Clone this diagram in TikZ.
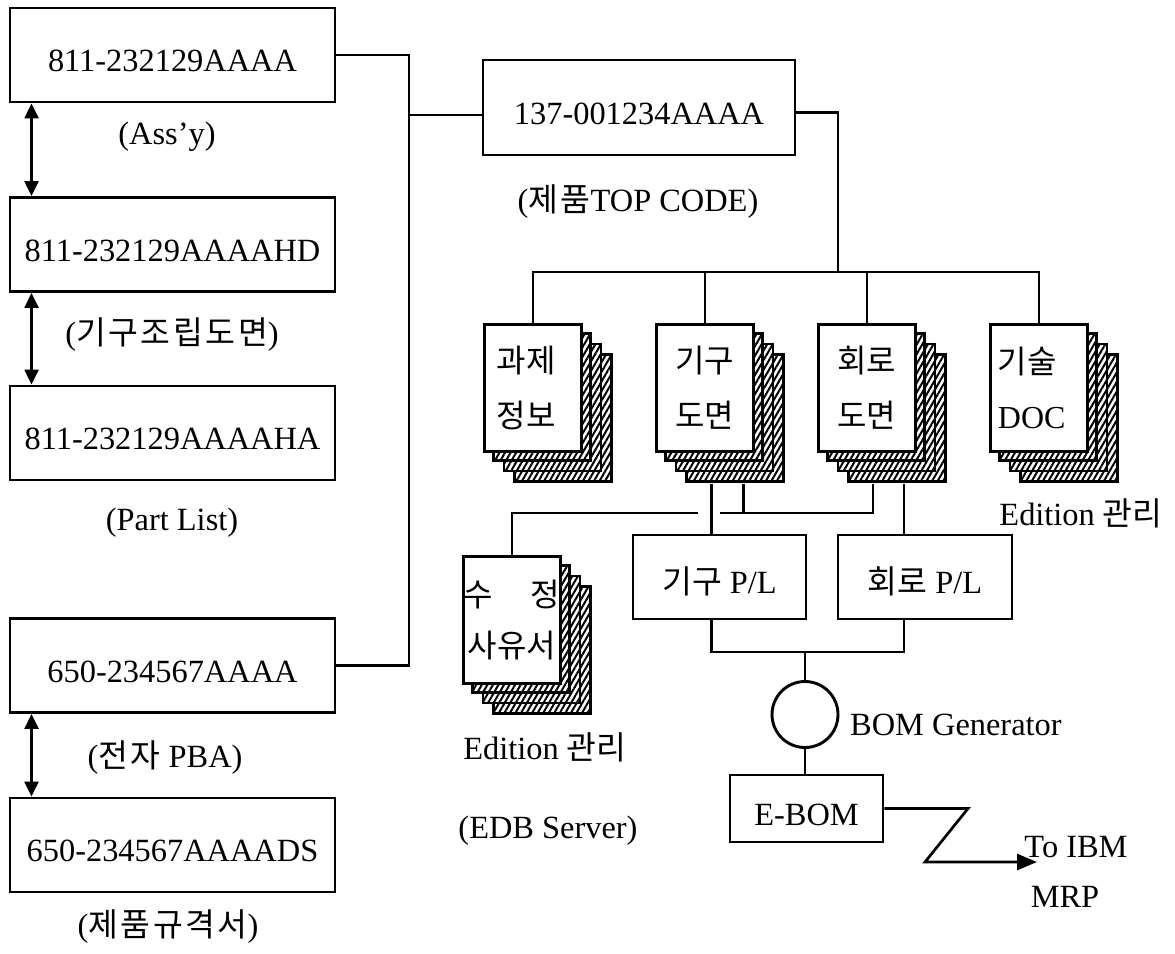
\documentclass[tikz,border=0pt]{standalone}
\usepackage{fontspec}
\setmainfont{Liberation Serif}
\newfontfamily\kr{Noto Sans CJK KR}
\newfontfamily\krl[LetterSpace=8]{Noto Sans CJK KR}
\usetikzlibrary{arrows.meta,patterns.meta,calc}

\tikzset{
  conn/.style={line width=2.7pt},
  codebox/.style={draw, line width=2.9pt, minimum width=325pt, minimum height=94pt, inner sep=0pt, text height=33pt, text depth=0pt},
  plbox/.style={draw, line width=2.9pt, inner sep=0pt, text height=33pt, text depth=0pt},
  docpage/.style={draw, line width=2.9pt, fill=white, minimum width=97pt, minimum height=127pt, inner sep=0pt, align=center,
     font=\kr\fontsize{32}{55}\selectfont},
  hatchpage/.style={draw, line width=2.4pt, fill=white, postaction={pattern={Lines[angle=60,distance=4.8pt,line width=2pt]}}},
  dbl/.style={line width=2.7pt, {Triangle[length=15pt,width=14pt]}-{Triangle[length=15pt,width=14pt]}},
  lbl/.style={inner sep=0pt}
}

\newcommand\docstack[4]{%
  \foreach \k in {3,2,1} {
    \draw[hatchpage] ({#2+\k*10.5},{#3+\k*10.5}) rectangle ++(97,127);
  }
  \node[docpage, anchor=north west] (#1) at (#2,#3) {#4};
  \coordinate (#1-b) at ($(#1.south)+(31.5,31.5)$);
}

\begin{document}
\begin{tikzpicture}[x=1pt,y=-1pt, font=\fontsize{32.4}{38}\selectfont]
\useasboundingbox (0,0) rectangle (1175,953);

% left column
\node[codebox] (b1) at (172.5,55) {811-232129AAAA};
\node[codebox] (b2) at (172.5,244.5) {811-232129AAAAHD};
\node[codebox] (b3) at (172.5,433) {811-232129AAAAHA};
\node[codebox] (b4) at (172.5,665.5) {650-234567AAAA};
\node[codebox] (b5) at (172.5,845) {650-234567AAAADS};

\node[lbl] (l1) at (167,137) {(Ass’y)};
\node[lbl] (l2) at (172,335) {({\krl 기구조립도면})};
\node[lbl] (l3) at (172,523) {(Part List)};
\node[lbl] (l4) at (165,758) {({\krl 전자} PBA)};
\node[lbl] (l5) at (168,927) {({\krl 제품규격서})};

\draw[dbl] ([xshift=23pt]b1.south west) -- ([xshift=23pt]b2.north west);
\draw[dbl] ([xshift=23pt]b2.south west) -- ([xshift=23pt]b3.north west);
\draw[dbl] ([xshift=23pt]b4.south west) -- ([xshift=23pt]b5.north west);

% top code
\node[plbox, minimum width=312pt, minimum height=95pt] (top) at (639,107.5) {137-001234AAAA};
\node[lbl] (ltop) at (638,202) {({\krl 제품}TOP CODE)};

\coordinate (trunk) at (409,115);
\draw[conn] (b1.east) -| (trunk) |- (b4.east);
\draw[conn] (trunk) -- (trunk -| top.west);

% documents
\docstack{d1}{483}{323}{\hbox to 72pt{과제\hfill}\\\hbox to 72pt{정보\hfill}}
\docstack{d2}{655}{323}{기구\\도면}
\docstack{d3}{817}{323}{회로\\도면}
\docstack{d4}{989}{323}{\hbox to 82pt{기술\hfill}\\\hbox to 82pt{\rmfamily DOC\hfill}}
\docstack{d5}{462}{555}{\hbox to 3em{수\hfill 정}\\[-4pt]사유서}

\coordinate (tr) at (838,272);
\draw[conn] ([yshift=-5pt]top.east) -| (tr);
\draw[conn] (d1.north) |- (tr) -| (d4.north);
\draw[conn] (d2.north) -- (d2.north |- tr);
\draw[conn] (d3.north) -- (d3.north |- tr);

\node[lbl] (ed1) at (1081,513) {Edition {\kr 관리}};
\node[lbl] (ed2) at (545,747) {Edition {\kr 관리}};

% parts lists
\node[plbox, minimum width=173pt, minimum height=84pt] (kpl) at (719.5,577) {{\kr 기구} P/L};
\node[plbox, minimum width=174pt, minimum height=84pt] (hpl) at (925,577) {{\kr 회로} P/L};

\coordinate (k1) at ($(d2-b)+(-25,0)$);
\coordinate (k2) at ($(d2-b)+(7,0)$);
\coordinate (h1) at ($(d3-b)+(-25.5,0)$);
\coordinate (h2) at ($(d3-b)+(5.5,0)$);
\coordinate (xl) at (698,513);
\coordinate (xr) at (720,513);

\draw[conn] (k1) -- (k1 |- kpl.north);
\draw[conn] (h2) -- (h2 |- hpl.north);
\draw[conn] (k2) -- (k2 |- xr);
\draw[conn] (xr) -| (h1);
\draw[conn] (d5.north) |- (xl);

% BOM generator
\coordinate (bj) at (805,652);
\node[draw, circle, line width=2.9pt, minimum size=66pt, inner sep=0pt] (gen) at (805,714.5) {};
\node[lbl, anchor=west] (lgen) at (850,725) {BOM Generator};
\node[plbox, minimum width=153pt, minimum height=67pt] (ebom) at (806.5,808.5) {E-BOM};

\draw[conn] (k1 |- kpl.south) |- (bj) -| (h2 |- hpl.south);
\draw[conn] (bj) -- (gen.north);
\draw[conn] (gen.south) -- (gen.south |- ebom.north);

\coordinate (z1) at (968,808.5);
\coordinate (z2) at (925,862);
\coordinate (z3) at (1037,862);
\draw[conn, line join=miter, -{Triangle[length=20pt,width=16pt]}] (ebom.east) -- (z1) -- (z2) -- (z3);

\node[lbl] (ibm) at (1076,847) {To IBM};
\node[lbl] (mrp) at (1065,897) {MRP};
\node[lbl] (edb) at (548,831) {(EDB Server)};
\end{tikzpicture}
\end{document}
